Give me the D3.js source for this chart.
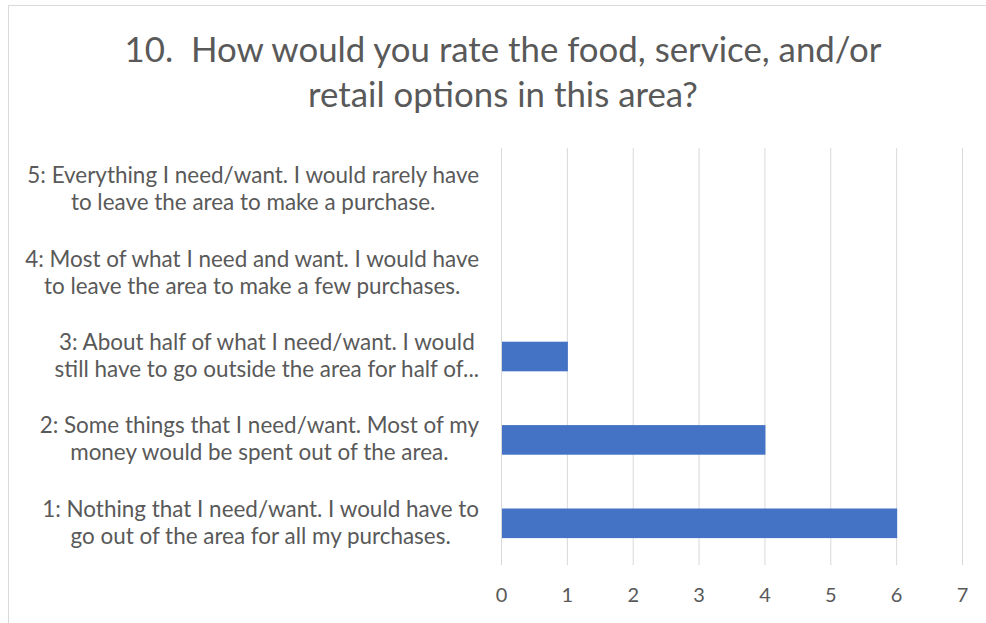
<!DOCTYPE html>
<html><head><meta charset="utf-8">
<script src="https://cdn.jsdelivr.net/npm/d3@7"></script>
<style>body{margin:0;background:#fff;} svg{display:block;}</style>
</head><body>
<script>
const titleLines = ["10.\u00a0\u00a0How would you rate the food, service, and/or", "retail options in this area?"];
const categories = [
  ["5: Everything I need/want. I would rarely have", "to leave the area to make a purchase."],
  ["4: Most of what I need and want. I would have", "to leave the area to make a few purchases."],
  ["3: About half of what I need/want. I would", "still have to go outside the area for half of..."],
  ["2: Some things that I need/want. Most of my", "money would be spent out of the area."],
  ["1: Nothing that I need/want. I would have to", "go out of the area for all my purchases."]
];
const values = [0, 0, 1, 4, 6];
const xTicks = [0, 1, 2, 3, 4, 5, 6, 7];

const W = 986, H = 623;
const svg = d3.select("body").append("svg").attr("width", W).attr("height", H);
const font = "Lato, 'Open Sans', sans-serif";
const textColor = "#595959";

svg.append("rect").attr("x", 8.5).attr("y", 5.5).attr("width", W + 10).attr("height", H + 10)
  .attr("fill", "#fff").attr("stroke", "#d9d9d9");

// title, sized so the first line spans the same width as the reference
const tt = svg.append("text").attr("text-anchor", "middle").attr("font-family", font)
  .attr("font-size", 30).attr("fill", textColor);
const tts = titleLines.map((l, i) => tt.append("tspan").attr("x", 503).attr("y", 62 + i * 45).text(l));
const tw = tts[0].node().getComputedTextLength();
tt.attr("font-size", 30 * 757 / tw);

const x = d3.scaleLinear().domain([0, 7]).range([501, 962]);
const y = d3.scaleBand().domain(d3.range(categories.length)).range([148, 565]).paddingInner(0.645).paddingOuter(0.3225);

// gridlines
svg.append("g").selectAll("line").data(xTicks).join("line")
  .attr("x1", d => x(d) + 0.5).attr("x2", d => x(d) + 0.5)
  .attr("y1", 148).attr("y2", 565).attr("stroke", "#d9d9d9").attr("stroke-width", 1);

// bars
svg.append("g").selectAll("rect").data(values).join("rect")
  .attr("x", x(0) + 1).attr("y", (d, i) => y(i))
  .attr("width", d => Math.max(0, x(d) - x(0))).attr("height", y.bandwidth())
  .attr("fill", "#4472c4");

// x tick labels
const xa = d3.axisBottom(x).tickValues(xTicks).tickFormat(d3.format("d")).tickSize(0).tickPadding(0);
const xg = svg.append("g").attr("transform", "translate(0,588)").call(xa);
xg.select(".domain").remove();
xg.selectAll("text").attr("font-family", font).attr("font-size", 20).attr("fill", textColor).attr("dy", "0.71em");

// category labels
const band = (565 - 148) / categories.length;
const labelRight = 479;
// scale label font so the first label's first line spans ~452px like the reference
const probe = svg.append("text").attr("font-family", font).attr("font-size", 20).text(categories[0][0]);
const labelSize = 20 * 452 / probe.node().getComputedTextLength();
probe.remove();
categories.forEach((lines, i) => {
  const cy = 148 + band * (i + 0.5);
  const g = svg.append("text").attr("font-family", font).attr("font-size", labelSize).attr("fill", textColor).attr("text-anchor", "middle");
  const ts = lines.map((l, j) => g.append("tspan").attr("y", cy + (j - 0.5) * 27 + 7).text(l));
  const maxW = d3.max(ts, t => t.node().getComputedTextLength());
  ts.forEach(t => t.attr("x", labelRight - maxW / 2));
});
</script>
</body></html>
